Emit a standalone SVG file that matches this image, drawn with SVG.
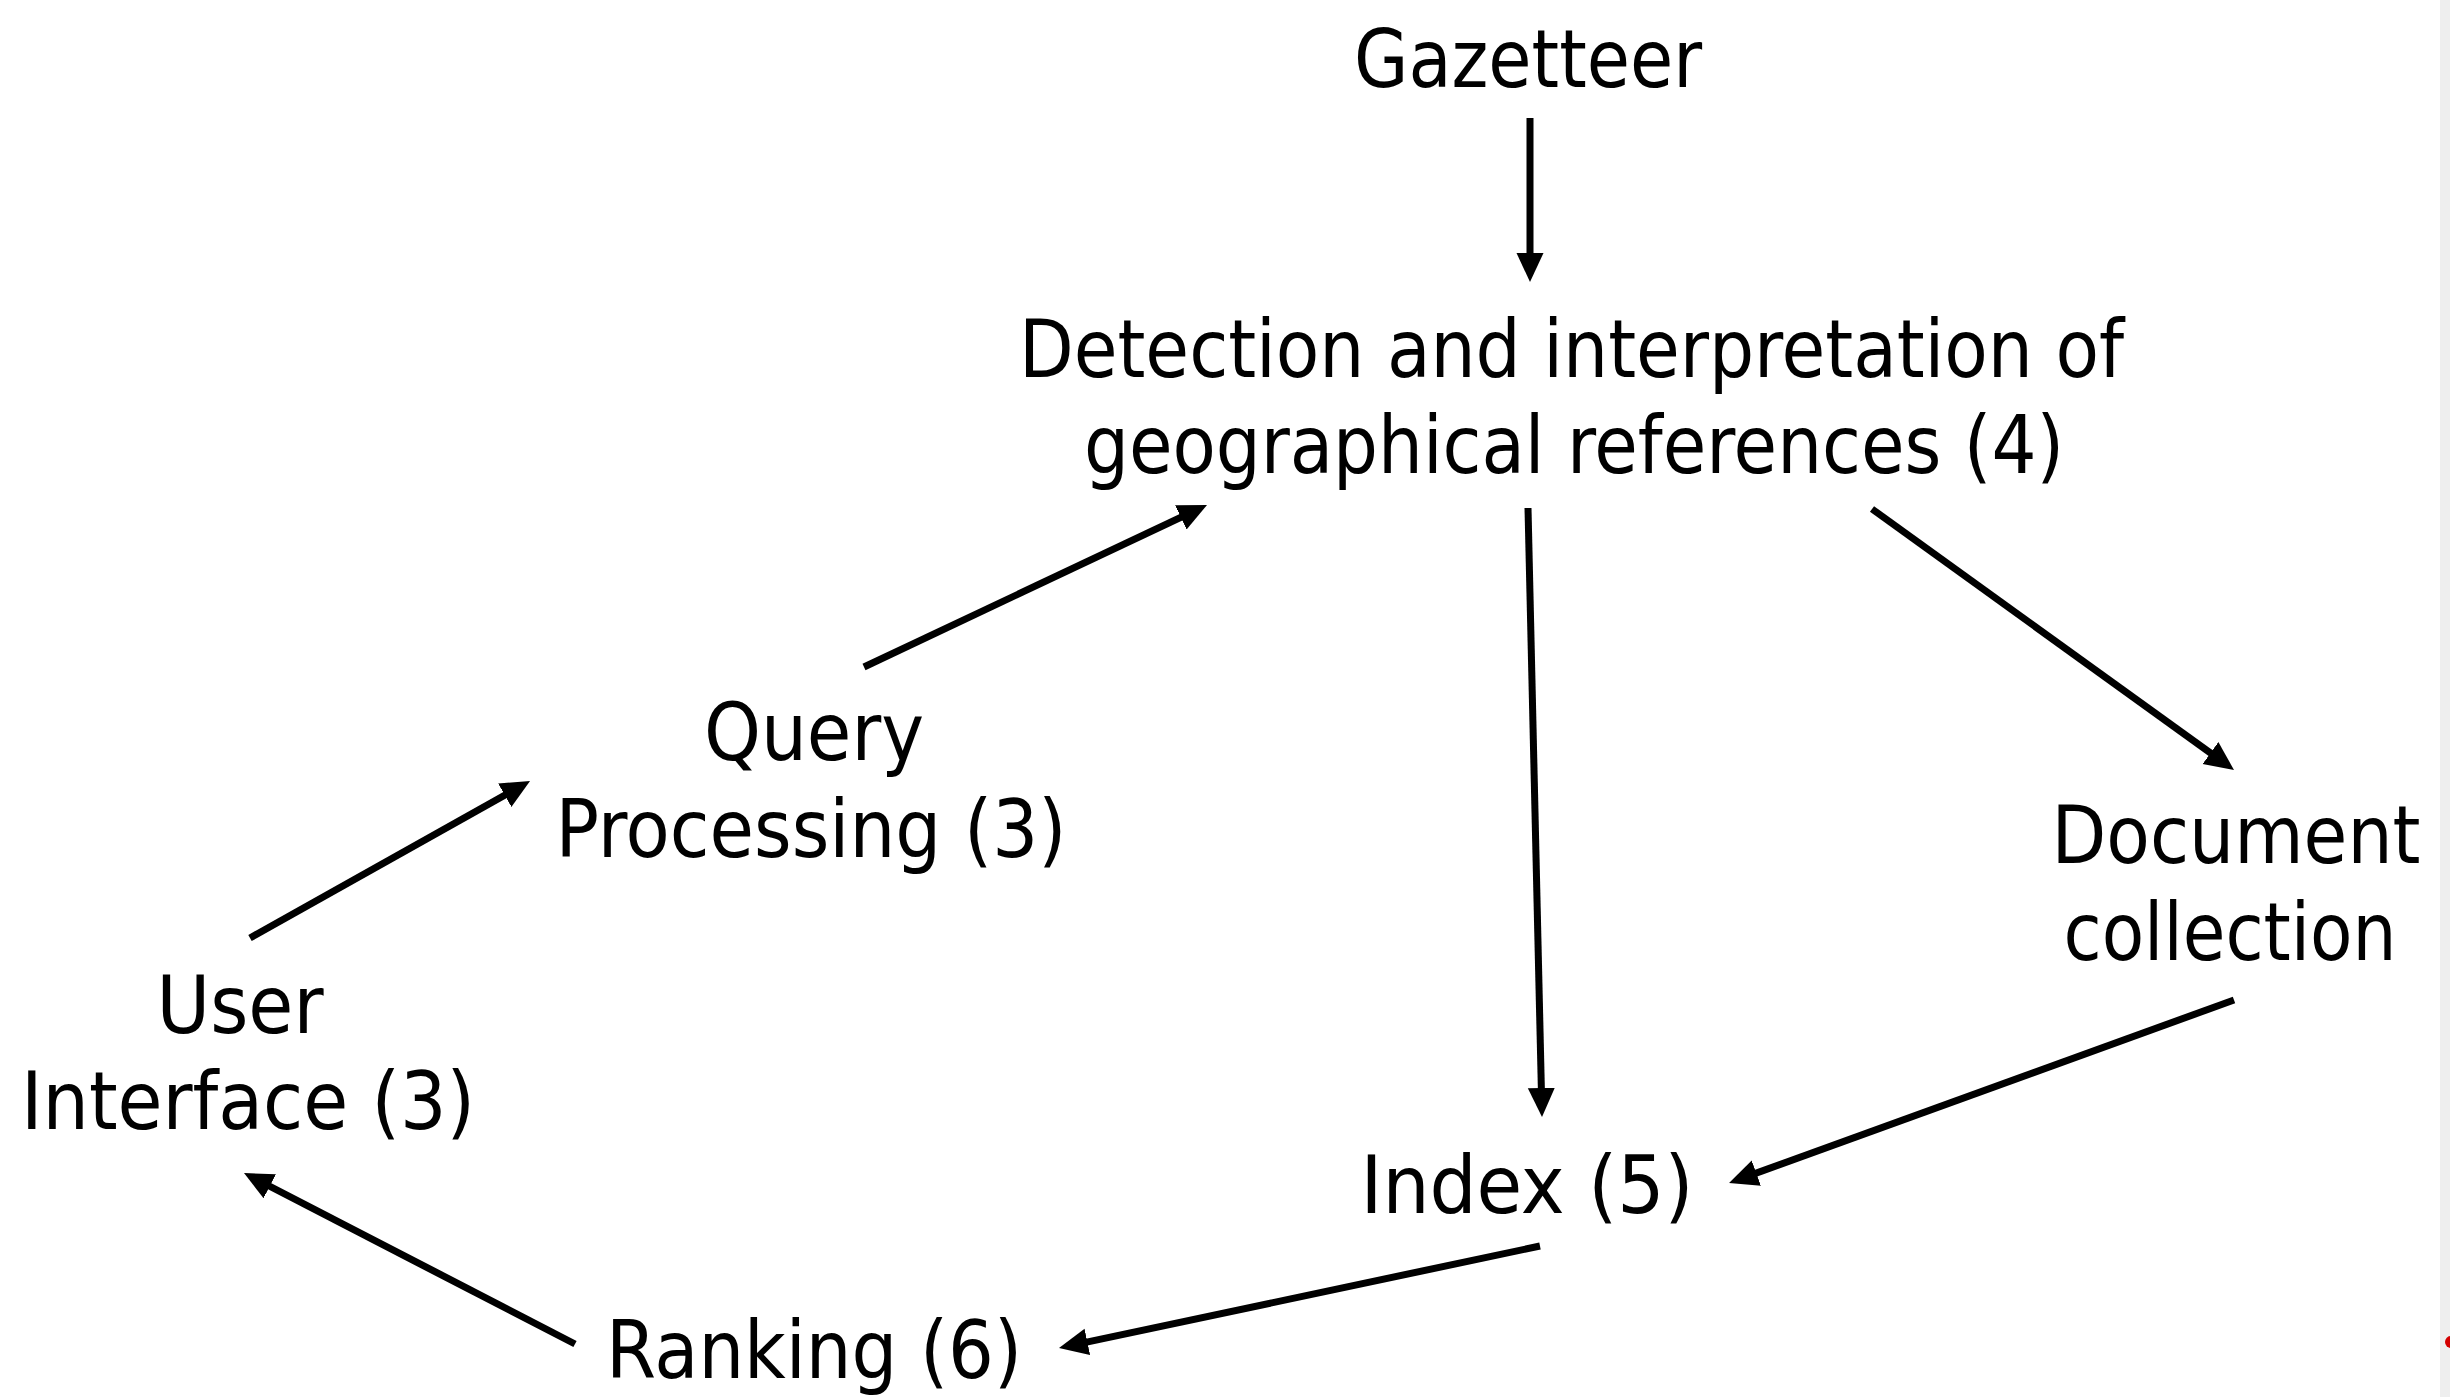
<svg xmlns="http://www.w3.org/2000/svg" width="2450" height="1397" viewBox="0 0 2450 1397">
<style>
.lbl{font-family:"DejaVu Sans Condensed","DejaVu Sans",sans-serif;font-size:80px;fill:#000;text-anchor:middle}
.con{stroke:#000;stroke-width:7;fill:none;marker-end:url(#ah)}
</style>
<defs>
<marker id="ah" markerUnits="userSpaceOnUse" markerWidth="30" markerHeight="28" viewBox="0 -14 30 28" refX="20" refY="0" orient="auto">
<path d="M0,-13.5 L29,0 L0,13.5 z" fill="#000"/>
</marker>
</defs>
<rect x="0" y="0" width="2450" height="1397" fill="#fff"/>
<rect x="2440" y="0" width="10" height="1397" fill="#eeeeee"/>
<circle cx="2451" cy="1342" r="6" fill="#d40000"/>
<g id="connectors">
<line class="con" x1="1530" y1="118" x2="1530" y2="273"/>
<line class="con" x1="864" y1="667" x2="1198.9" y2="508.8"/>
<line class="con" x1="250" y1="938" x2="522.2" y2="785.4"/>
<line class="con" x1="575" y1="1344" x2="252" y2="1177.1"/>
<line class="con" x1="1528" y1="508" x2="1541.8" y2="1108"/>
<line class="con" x1="1872" y1="509" x2="2226.7" y2="764.7"/>
<line class="con" x1="2234" y1="1000" x2="1737.5" y2="1179.9"/>
<line class="con" x1="1540" y1="1246" x2="1067.8" y2="1346.1"/>
</g>
<g id="gazetteer"><text class="lbl" x="1528" y="87" textLength="348" lengthAdjust="spacingAndGlyphs">Gazetteer</text></g>
<g id="detection">
<text class="lbl" x="1571.5" y="377" textLength="1105" lengthAdjust="spacingAndGlyphs">Detection and interpretation of</text>
<text class="lbl" x="1574" y="473" textLength="980" lengthAdjust="spacingAndGlyphs">geographical references (4)</text>
</g>
<g id="query">
<text class="lbl" x="814" y="760" textLength="220" lengthAdjust="spacingAndGlyphs">Query</text>
<text class="lbl" x="811" y="857" textLength="511" lengthAdjust="spacingAndGlyphs">Processing (3)</text>
</g>
<g id="user-interface">
<text class="lbl" x="240" y="1033" textLength="167" lengthAdjust="spacingAndGlyphs">User</text>
<text class="lbl" x="248" y="1129" textLength="454" lengthAdjust="spacingAndGlyphs">Interface (3)</text>
</g>
<g id="document">
<text class="lbl" x="2236" y="863" textLength="369" lengthAdjust="spacingAndGlyphs">Document</text>
<text class="lbl" x="2230" y="960" textLength="333" lengthAdjust="spacingAndGlyphs">collection</text>
</g>
<g id="index"><text class="lbl" x="1527" y="1213" textLength="333" lengthAdjust="spacingAndGlyphs">Index (5)</text></g>
<g id="ranking"><text class="lbl" x="814" y="1378" textLength="416" lengthAdjust="spacingAndGlyphs">Ranking (6)</text></g>
</svg>
